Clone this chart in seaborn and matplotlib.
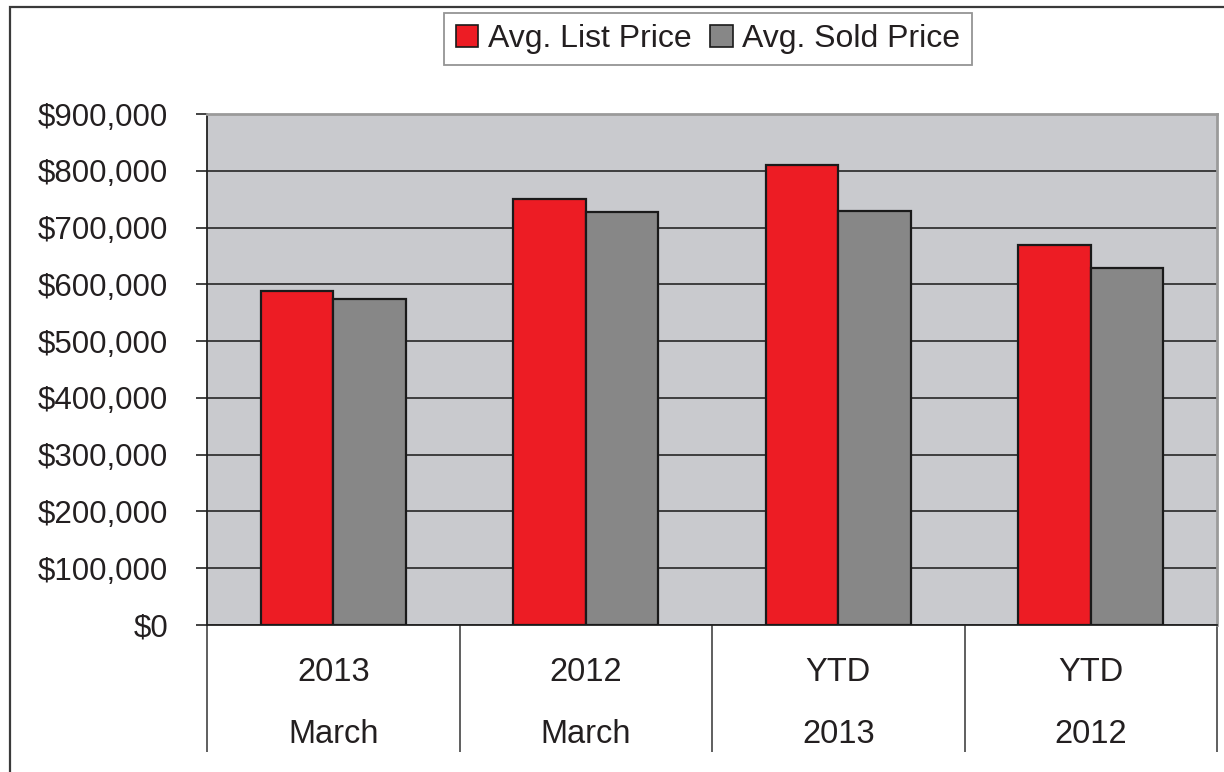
import matplotlib
matplotlib.use("Agg")
import matplotlib.pyplot as plt
import numpy as np
import pandas as pd
import seaborn as sns
from matplotlib.patches import Rectangle
from matplotlib.ticker import FuncFormatter

# ---------------------------------------------------------------------------
# Data
# ---------------------------------------------------------------------------
PERIODS = ["2013\nMarch", "2012\nMarch", "YTD\n2013", "YTD\n2012"]
LIST_PRICE = [589000, 750000, 811000, 670000]
SOLD_PRICE = [575000, 727000, 730000, 628000]
SERIES = ["Avg. List Price", "Avg. Sold Price"]
Y_TICKS = [0, 100000, 200000, 300000, 400000, 500000, 600000, 700000, 800000, 900000]

RED = "#ED1C24"
GRAY = "#878787"
PLOT_BG = "#C9CACE"

df = pd.DataFrame({
    "period": PERIODS * 2,
    "price": LIST_PRICE + SOLD_PRICE,
    "series": [SERIES[0]] * len(PERIODS) + [SERIES[1]] * len(PERIODS),
})

sns.set_theme(style="white")
plt.rcParams["font.family"] = ["Liberation Sans", "DejaVu Sans"]

fig = plt.figure(figsize=(12.24, 7.72), dpi=100)
ax = fig.add_axes([207 / 1224, 1 - 625 / 772, (1217 - 207) / 1224, (625 - 114) / 772])
ax.set_facecolor(PLOT_BG)

sns.barplot(
    data=df, x="period", y="price", hue="series", order=PERIODS,
    palette=[RED, GRAY], width=0.575, edgecolor="#1a1a1a", linewidth=1.6,
    saturation=1, ax=ax, zorder=3,
)

# axes / grid
ax.set_xlim(-0.5, len(PERIODS) - 0.5)
ax.set_ylim(0, 900000)
ax.set_yticks(Y_TICKS)
ax.yaxis.set_major_formatter(FuncFormatter(lambda v, _: f"${v:,.0f}"))
ax.yaxis.grid(True, color="#333333", linewidth=1.3, zorder=0)
ax.set_axisbelow(True)
ax.set_xlabel("")
ax.set_ylabel("")

for side in ("top", "right"):
    ax.spines[side].set_color("#9a9a9a")
    ax.spines[side].set_linewidth(2)
for side in ("left", "bottom"):
    ax.spines[side].set_color("#222222")
    ax.spines[side].set_linewidth(1.3)

ax.tick_params(axis="y", which="major", direction="out", length=8, width=1.2,
               color="#222222", pad=20, labelsize=22.5, labelcolor="#231f20", left=True)
ax.tick_params(axis="x", which="major", length=0, pad=23, labelsize=23.5, labelcolor="#231f20")

# category separators below the axis
ax.set_xticks(np.arange(-0.5, len(PERIODS)), minor=True)
ax.tick_params(axis="x", which="minor", direction="out", length=91.5, width=1.2,
               color="#444444", bottom=True)
for t in ax.get_xticklabels():
    t.set_linespacing(2.3)

# legend
handles, labels = ax.get_legend_handles_labels()
ax.get_legend().remove()
leg = fig.legend(
    handles, labels, loc="center", bbox_to_anchor=(708 / 1224, 1 - 39 / 772),
    ncol=2, fontsize=23, frameon=True, fancybox=False, shadow=False,
    handlelength=0.7, handleheight=0.7, handletextpad=0.3, columnspacing=0.6,
    borderpad=0.35, labelcolor="#231f20",
)
leg.get_frame().set_edgecolor("#7a7a7a")
leg.get_frame().set_linewidth(1.3)
for h in leg.legend_handles:
    h.set_edgecolor("#1a1a1a")
    h.set_linewidth(1.2)

# outer chart border (left and top edges visible)
fig.patches.append(Rectangle((10 / 1224, -0.1), 1.2, 1.1 - 7 / 772,
                             transform=fig.transFigure, fill=False,
                             edgecolor="#3a3a3a", linewidth=1.6))

fig.savefig("out.png", dpi=100)
